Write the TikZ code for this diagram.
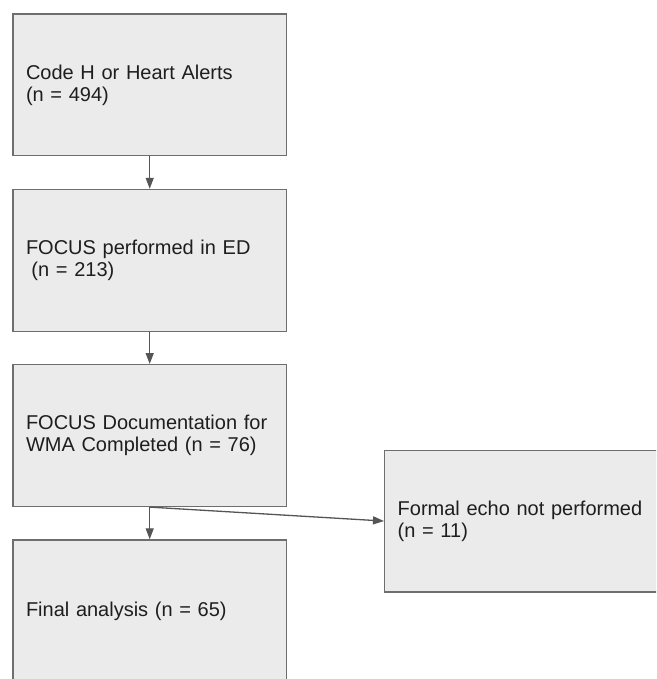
\documentclass[tikz,border=0pt]{standalone}
\usepackage{fontspec}
\setmainfont{Liberation Sans}
\usetikzlibrary{arrows.meta,calc}
\definecolor{boxfill}{HTML}{EBEBEB}
\definecolor{boxline}{HTML}{6E6E6E}
\definecolor{arrowcol}{HTML}{555555}
\definecolor{txtcol}{HTML}{1E1E1E}
\tikzset{
  flowbox/.style={draw=boxline, fill=boxfill, line width=1.4pt, rectangle,
    anchor=north west, minimum height=141.7pt, inner xsep=13pt, inner ysep=0pt,
    align=left, text=txtcol, font=\fontsize{20}{22}\selectfont},
  mainbox/.style={flowbox, minimum width=273.4pt, text width=247.4pt},
  sidebox/.style={flowbox, minimum width=285pt, text width=259pt},
  flowarrow/.style={draw=arrowcol, line width=1.3pt, -{Triangle[length=11pt,width=8pt]}}
}
\begin{document}
\begin{tikzpicture}[x=1pt,y=1pt]
\useasboundingbox (0,0) rectangle (656,-679);
\clip (0,0) rectangle (656,-679);
\fill[white] (0,0) rectangle (656,-679);
\node[mainbox] (b1) at (12.3,-13.3) {Code H or Heart Alerts\\(n = 494)};
\node[mainbox] (b2) at (12.3,-188.8) {FOCUS performed in ED\\\hspace*{5.5pt}(n = 213)};
\node[mainbox] (b3) at (12.3,-364.0) {FOCUS Documentation for\\WMA Completed (n = 76)};
\node[mainbox] (b4) at (12.3,-539.3) {Final analysis (n = 65)};
\node[sidebox] (b5) at (384,-449.5) {Formal echo not performed\\(n = 11)};
\draw[flowarrow] (b1.south) -- (b2.north);
\draw[flowarrow] (b2.south) -- (b3.north);
\draw[flowarrow] (b3.south) -- (b4.north);
\draw[flowarrow] (b3.south) -- (b5.west);
\end{tikzpicture}
\end{document}
